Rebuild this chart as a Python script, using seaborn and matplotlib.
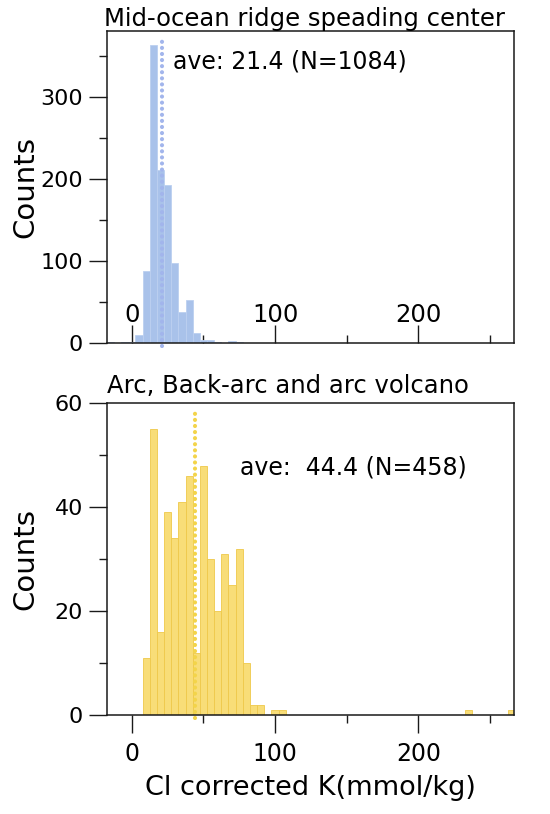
import numpy as np
import pandas as pd
import matplotlib
matplotlib.use("Agg")
import matplotlib.pyplot as plt
from matplotlib.ticker import MultipleLocator
import seaborn as sns

# ---- data (bin centres, width 5) ----
mor_centers = [-15, -5, 0, 5, 10, 15, 20, 25, 30, 35, 40, 45, 50, 55, 60, 70, 75]
mor_counts = [1, 1, 1, 10, 88, 363, 211, 193, 98, 38, 53, 13, 4, 4, 1, 3, 2]
mor_ave = 21.4
mor_n = 1084

arc_centers = [10, 15, 20, 25, 30, 35, 40, 45, 50, 55, 60, 65, 70, 75, 80, 85, 90,
               100, 105, 235, 265]
arc_counts = [11, 55, 16, 39, 34, 41, 46, 12, 48, 30, 20, 31, 25, 32, 10, 2, 2,
              1, 1, 1, 1]
arc_ave = 44.4
arc_n = 458

title_top = "Mid-ocean ridge speading center"
title_bot = "Arc, Back-arc and arc volcano"
xlabel = "Cl corrected K(mmol/kg)"
ylabel = "Counts"

sns.set_style("ticks")
plt.rcParams['font.family'] = ['DejaVu Sans']
plt.rcParams['text.color'] = 'black'
plt.rcParams['axes.labelcolor'] = 'black'
plt.rcParams['xtick.color'] = 'black'
plt.rcParams['ytick.color'] = 'black'

W, H = 550, 814
fig = plt.figure(figsize=(W / 100, H / 100), dpi=100)

def axrect(l, t, r, b):
    return [l / W, 1 - b / H, (r - l) / W, (b - t) / H]

ax1 = fig.add_axes(axrect(107.3, 31, 514.3, 343.3))
ax2 = fig.add_axes(axrect(107.3, 403.3, 514.3, 715))

df1 = pd.DataFrame({"x": mor_centers, "w": mor_counts})
df2 = pd.DataFrame({"x": arc_centers, "w": arc_counts})

blue = "#a9c2ea"
yellow = "#f8dd78"
sns.histplot(data=df1, x="x", weights="w", binwidth=5, binrange=(-17.5, 267.5),
             ax=ax1, color=blue, alpha=1.0, edgecolor="#bcd0f0", linewidth=0.6)
sns.histplot(data=df2, x="x", weights="w", binwidth=5, binrange=(-17.5, 267.5),
             ax=ax2, color=yellow, alpha=1.0, edgecolor="#efc94a", linewidth=0.6)

XL = (-17.1, 267)
for ax in (ax1, ax2):
    ax.set_xlim(*XL)
    for s in ax.spines.values():
        s.set_visible(True)
        s.set_linewidth(1.1)
        s.set_color("#1a1a1a")
    ax.xaxis.set_major_locator(MultipleLocator(100))
    ax.xaxis.set_minor_locator(MultipleLocator(50))
    ax.tick_params(which="major", length=13, width=1.0, color="#1a1a1a")
    ax.tick_params(which="minor", length=5.8, width=1.0, color="#1a1a1a")
    ax.tick_params(axis="y", which="major", labelsize=16, pad=4.5)
    ax.tick_params(axis="x", which="major", labelsize=17, pad=6.5)
    ax.set_xlabel("")

ax1.set_ylim(0, 380)
ax1.yaxis.set_major_locator(MultipleLocator(100))
ax1.yaxis.set_minor_locator(MultipleLocator(50))
ax1.tick_params(axis="x", which="both", direction="in")
ax1.tick_params(axis="x", which="major", pad=-29, labelsize=17.5)

ax2.set_ylim(0, 60)
ax2.yaxis.set_major_locator(MultipleLocator(20))
ax2.yaxis.set_minor_locator(MultipleLocator(10))

for ax, cy in ((ax1, 0.5), (ax2, 0.5)):
    ax.set_ylabel(ylabel, fontsize=21)
    ax.yaxis.label.set_va("baseline")
    ax.yaxis.set_label_coords((33.3 - 107.3) / 407.0, cy)

ax2.set_xlabel(xlabel, fontsize=19.5)
ax2.xaxis.label.set_va("baseline")
ax2.xaxis.set_label_coords((310 - 107.3) / 407.0, (715 - 795) / 311.7)

# average lines
ax1.plot([mor_ave, mor_ave], [-3, 372], color="#a2b5ec", lw=3.0,
         linestyle=(0, (0.01, 1.45)), dash_capstyle="round", clip_on=False)
ax2.plot([arc_ave, arc_ave], [-0.6, 58.5], color="#f3d44a", lw=3.0,
         linestyle=(0, (0.01, 1.45)), dash_capstyle="round", clip_on=False)

ax1.text(28.7, 342.6, f"ave: {mor_ave} (N={mor_n})", fontsize=17,
         ha="left", va="center")
ax2.text(75.3, 47.7, f"ave:  {arc_ave} (N={arc_n})", fontsize=17,
         ha="left", va="center")

ax1.text(-3.2 / 407.0, 1.0 + 5 / 312.3, title_top, transform=ax1.transAxes,
         fontsize=17.5, ha="left", va="baseline")
ax2.text(0.0, 1.0 + 10.3 / 311.7, title_bot, transform=ax2.transAxes,
         fontsize=17.5, ha="left", va="baseline")

fig.savefig("out.png", dpi=100)
